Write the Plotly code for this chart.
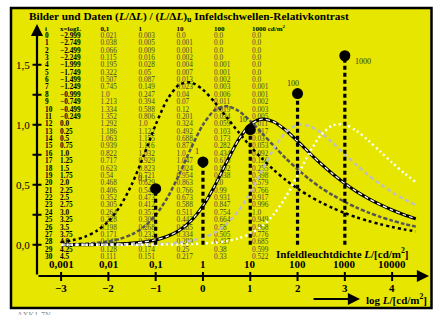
import plotly.graph_objects as go

# ---------------- data ----------------
row_index = list(range(31))
log_l = [-3.0, -2.75, -2.5, -2.25, -2.0, -1.75, -1.5, -1.25, -1.0, -0.75, -0.5, -0.25,
         0.0, 0.25, 0.5, 0.75, 1.0, 1.25, 1.5, 1.75, 2.0, 2.25, 2.5, 2.75,
         3.0, 3.25, 3.5, 3.75, 4.0, 4.25, 4.5]
log_l_text = ["−2.999", "−2.749", "−2.499", "−2.249", "−1.999", "−1.749", "−1.499", "−1.249",
              "−0.999", "−0.749", "−0.499", "−0.249", "0.0", "0.25", "0.5", "0.75", "1.0",
              "1.25", "1.5", "1.75", "2.0", "2.25", "2.5", "2.75", "3.0", "3.25", "3.5",
              "3.75", "4.0", "4.25", "4.5"]
c_0_1 = [0.021, 0.038, 0.066, 0.115, 0.195, 0.322, 0.507, 0.745, 1.0, 1.213, 1.334, 1.352,
         1.292, 1.186, 1.063, 0.939, 0.822, 0.717, 0.623, 0.54, 0.468, 0.406, 0.352, 0.305,
         0.264, 0.228, 0.198, 0.171, 0.148, 0.128, 0.111]
c_1 = [0.003, 0.005, 0.009, 0.016, 0.028, 0.05, 0.087, 0.149, 0.247, 0.394, 0.588, 0.806,
       1.0, 1.122, 1.155, 1.116, 1.032, 0.929, 0.823, 0.721, 0.629, 0.546, 0.473, 0.412,
       0.357, 0.309, 0.268, 0.232, 0.201, 0.174, 0.151]
c_10 = [0.0, 0.001, 0.001, 0.002, 0.004, 0.007, 0.013, 0.023, 0.04, 0.07, 0.12, 0.201,
        0.324, 0.492, 0.688, 0.873, 1.0, 1.047, 1.024, 0.954, 0.863, 0.766, 0.673, 0.588,
        0.511, 0.443, 0.385, 0.334, 0.289, 0.25, 0.217]
c_100 = [0.0, 0.0, 0.0, 0.0, 0.001, 0.001, 0.002, 0.003, 0.006, 0.011, 0.019, 0.034,
         0.059, 0.103, 0.173, 0.282, 0.434, 0.618, 0.802, 0.938, 1.0, 0.99, 0.931, 0.847,
         0.754, 0.664, 0.58, 0.505, 0.437, 0.38, 0.33]
c_1000 = [0.0, 0.0, 0.0, 0.0, 0.0, 0.0, 0.0, 0.001, 0.001, 0.002, 0.003, 0.005,
          0.011, 0.017, 0.03, 0.053, 0.092, 0.156, 0.255, 0.398, 0.579, 0.766, 0.917, 0.996,
          1.0, 0.949, 0.868, 0.776, 0.685, 0.599, 0.522]
column_headers = ["0,1", "1", "10", "100", "1000 cd/m<sup>2</sup>"]

surround_log = [-1, 0, 1, 2, 3]
dot_values = [0.467, 0.69, 0.96, 1.26, 1.575]
dot_labels = ["0,1", "1", "10", "100", "1000"]

x_ticks = [-3, -2, -1, 0, 1, 2, 3, 4]
x_tick_top = ["0,001", "0,01", "0,1", "1", "10", "100", "1000", "10000"]
x_tick_bottom = ["−3", "−2", "−1", "0", "1", "2", "3", "4"]
y_ticks = [0.0, 0.25, 0.5, 0.75, 1.0, 1.25, 1.5]
y_tick_labels = {0.0: "0,0", 0.5: "0,5", 1.0: "1,0", 1.5: "1,5"}

# ---------------- pixel calibration (layout only) ----------------
W, H = 435, 315
PXX = 47.29
PXY = 120.0
XO = 0.5 - 226.6 / PXX
YO = 0.75 + 154.75 / PXY


def X(px):
    return XO + px / PXX


def Y(py):
    return YO - py / PXY


SERIF = "Liberation Serif"
YELLOW = "#e6e600"
fig = go.Figure()

# ---------------- table text (drawn first, under the curves) ----------------
row_y = [Y(36 + 7.377 * i) for i in row_index]
VALUE_COLOR = "#4a4a3a"
TS = 7.3


def text_col(px, texts, color, bold=False, size=TS):
    fig.add_trace(go.Scatter(
        x=[X(px)] * len(texts), y=row_y[:len(texts)], mode="text",
        text=[("<b>%s</b>" % t) if bold else t for t in texts],
        textposition="middle right",
        textfont=dict(family=SERIF, size=size, color=color),
        hoverinfo="skip"))


text_col(45, [str(i) for i in row_index], "black", bold=True)
text_col(60, log_l_text, "black", bold=True)
for px, col in zip([100.5, 138.5, 176.5, 214, 252], [c_0_1, c_1, c_10, c_100, c_1000]):
    text_col(px, [str(v) for v in col], VALUE_COLOR)

# header row
header_y = Y(29)
for px, t in zip([45, 60, 100.5, 138.5, 176.5, 214, 252],
                 ["i", "x=logL"] + column_headers):
    fig.add_trace(go.Scatter(
        x=[X(px)], y=[header_y], mode="text", text=["<b>%s</b>" % t],
        textposition="middle right",
        textfont=dict(family=SERIF, size=7, color="black"), hoverinfo="skip"))

# ---------------- curves ----------------
def curve(y, color, width, dash):
    fig.add_trace(go.Scatter(x=log_l, y=y, mode="lines",
                             line=dict(color=color, width=width, dash=dash, shape="spline", smoothing=0.8),
                             hoverinfo="skip"))


curve(c_0_1, "black", 2.5, "3px,3px")
curve(c_1, "#555555", 2.5, "4px,2px")
curve(c_10, "black", 3.2, "solid")
curve(c_10, "white", 1.3, "4px,3px")
curve(c_100, "#c0c0c0", 2.5, "4px,3px")
curve(c_1000, "white", 2.5, "2px,3px")

# ---------------- verticals with dots ----------------
for s, v in zip(surround_log, dot_values):
    fig.add_trace(go.Scatter(x=[s, s], y=[0, v], mode="lines",
                             line=dict(color="black", width=3.2, dash="4px,3px"),
                             hoverinfo="skip"))
fig.add_trace(go.Scatter(x=surround_log, y=dot_values, mode="markers",
                         marker=dict(color="black", size=11), hoverinfo="skip"))

annotations = []
offsets = [(-13, -10), (-6, -10), (-7, -10), (-5, -10), (18, 6)]
for s, v, lab, (dx, dy) in zip(surround_log, dot_values, dot_labels, offsets):
    annotations.append(dict(x=s + dx / PXX, y=v - dy / PXY, text=lab, showarrow=False,
                            font=dict(family=SERIF, size=8, color="#333333"),
                            xanchor="center", yanchor="middle"))

# ---------------- axes (drawn manually) ----------------
shapes = [dict(type="rect", xref="x", yref="y", x0=X(11), x1=X(431.5), y0=Y(308), y1=Y(8),
               fillcolor=YELLOW, line=dict(color="black", width=2.5), layer="below")]
axis_y = Y(276)
axis_x = X(37)
for t in x_ticks:
    shapes.append(dict(type="line", xref="x", yref="y", x0=t, x1=t, y0=Y(272), y1=Y(281),
                       line=dict(color="black", width=2)))
for t in y_ticks:
    shapes.append(dict(type="line", xref="x", yref="y", x0=X(32.5), x1=X(41.5), y0=t, y1=t,
                       line=dict(color="black", width=2)))

# axis arrows
annotations.append(dict(x=X(429), y=axis_y, ax=axis_x, ay=axis_y, axref="x", ayref="y",
                        xref="x", yref="y", text="", showarrow=True, arrowhead=2,
                        arrowsize=1.1, arrowwidth=2.2, arrowcolor="black"))
annotations.append(dict(x=axis_x, y=Y(24), ax=axis_x, ay=axis_y, axref="x", ayref="y",
                        xref="x", yref="y", text="", showarrow=True, arrowhead=2,
                        arrowsize=1.1, arrowwidth=2.2, arrowcolor="black"))
annotations.append(dict(x=X(360), y=Y(299), ax=X(312), ay=Y(299), axref="x", ayref="y",
                        xref="x", yref="y", text="", showarrow=True, arrowhead=2,
                        arrowsize=1.1, arrowwidth=2.2, arrowcolor="black"))

for t, lab in zip(x_ticks, x_tick_top):
    annotations.append(dict(x=t, y=Y(264), text="<b>%s</b>" % lab, showarrow=False,
                            font=dict(family=SERIF, size=11, color="black"),
                            xanchor="center", yanchor="middle"))
for t, lab in zip(x_ticks, x_tick_bottom):
    annotations.append(dict(x=t, y=Y(288), text="<b>%s</b>" % lab, showarrow=False,
                            font=dict(family=SERIF, size=11, color="black"),
                            xanchor="center", yanchor="middle"))
for t, lab in y_tick_labels.items():
    annotations.append(dict(x=X(32), y=t, text=lab, showarrow=False,
                            font=dict(family=SERIF, size=11, color="black"),
                            xanchor="right", yanchor="middle"))

annotations.append(dict(x=X(27), y=Y(17),
                        text="<b>Bilder und Daten (<i>L</i>/Δ<i>L</i>) / (<i>L</i>/Δ<i>L</i>)<sub>u</sub> "
                             "Infeldschwellen-Relativkontrast</b>",
                        showarrow=False, font=dict(family=SERIF, size=11.3, color="black"),
                        xanchor="left", yanchor="middle"))
annotations.append(dict(x=X(411), y=Y(253),
                        text="<b>Infeldleuchtdichte <i>L</i>/[cd/m<sup>2</sup>]</b>",
                        showarrow=False, font=dict(family=SERIF, size=11, color="black"),
                        xanchor="right", yanchor="middle"))
annotations.append(dict(x=X(364), y=Y(299),
                        text="<b>log <i>L</i>/[cd/m<sup>2</sup>]</b>",
                        showarrow=False, font=dict(family=SERIF, size=11, color="black"),
                        xanchor="left", yanchor="middle"))
annotations.append(dict(x=X(15), y=Y(315), text="AXK1-7N", showarrow=False,
                        font=dict(family=SERIF, size=8, color="#888888"),
                        xanchor="left", yanchor="middle"))

fig.update_layout(
    width=W, height=H, margin=dict(l=0, r=0, t=0, b=0),
    paper_bgcolor="white", plot_bgcolor="rgba(0,0,0,0)",
    xaxis=dict(range=[X(0), X(W)], visible=False, fixedrange=True),
    yaxis=dict(range=[Y(H), Y(0)], visible=False, fixedrange=True),
    showlegend=False, shapes=shapes, annotations=annotations,
    hovermode=False,
)
fig.write_html("out.html", config={"displayModeBar": False, "staticPlot": True},
               post_script="document.body.style.margin='0';document.body.style.overflow='hidden';")
